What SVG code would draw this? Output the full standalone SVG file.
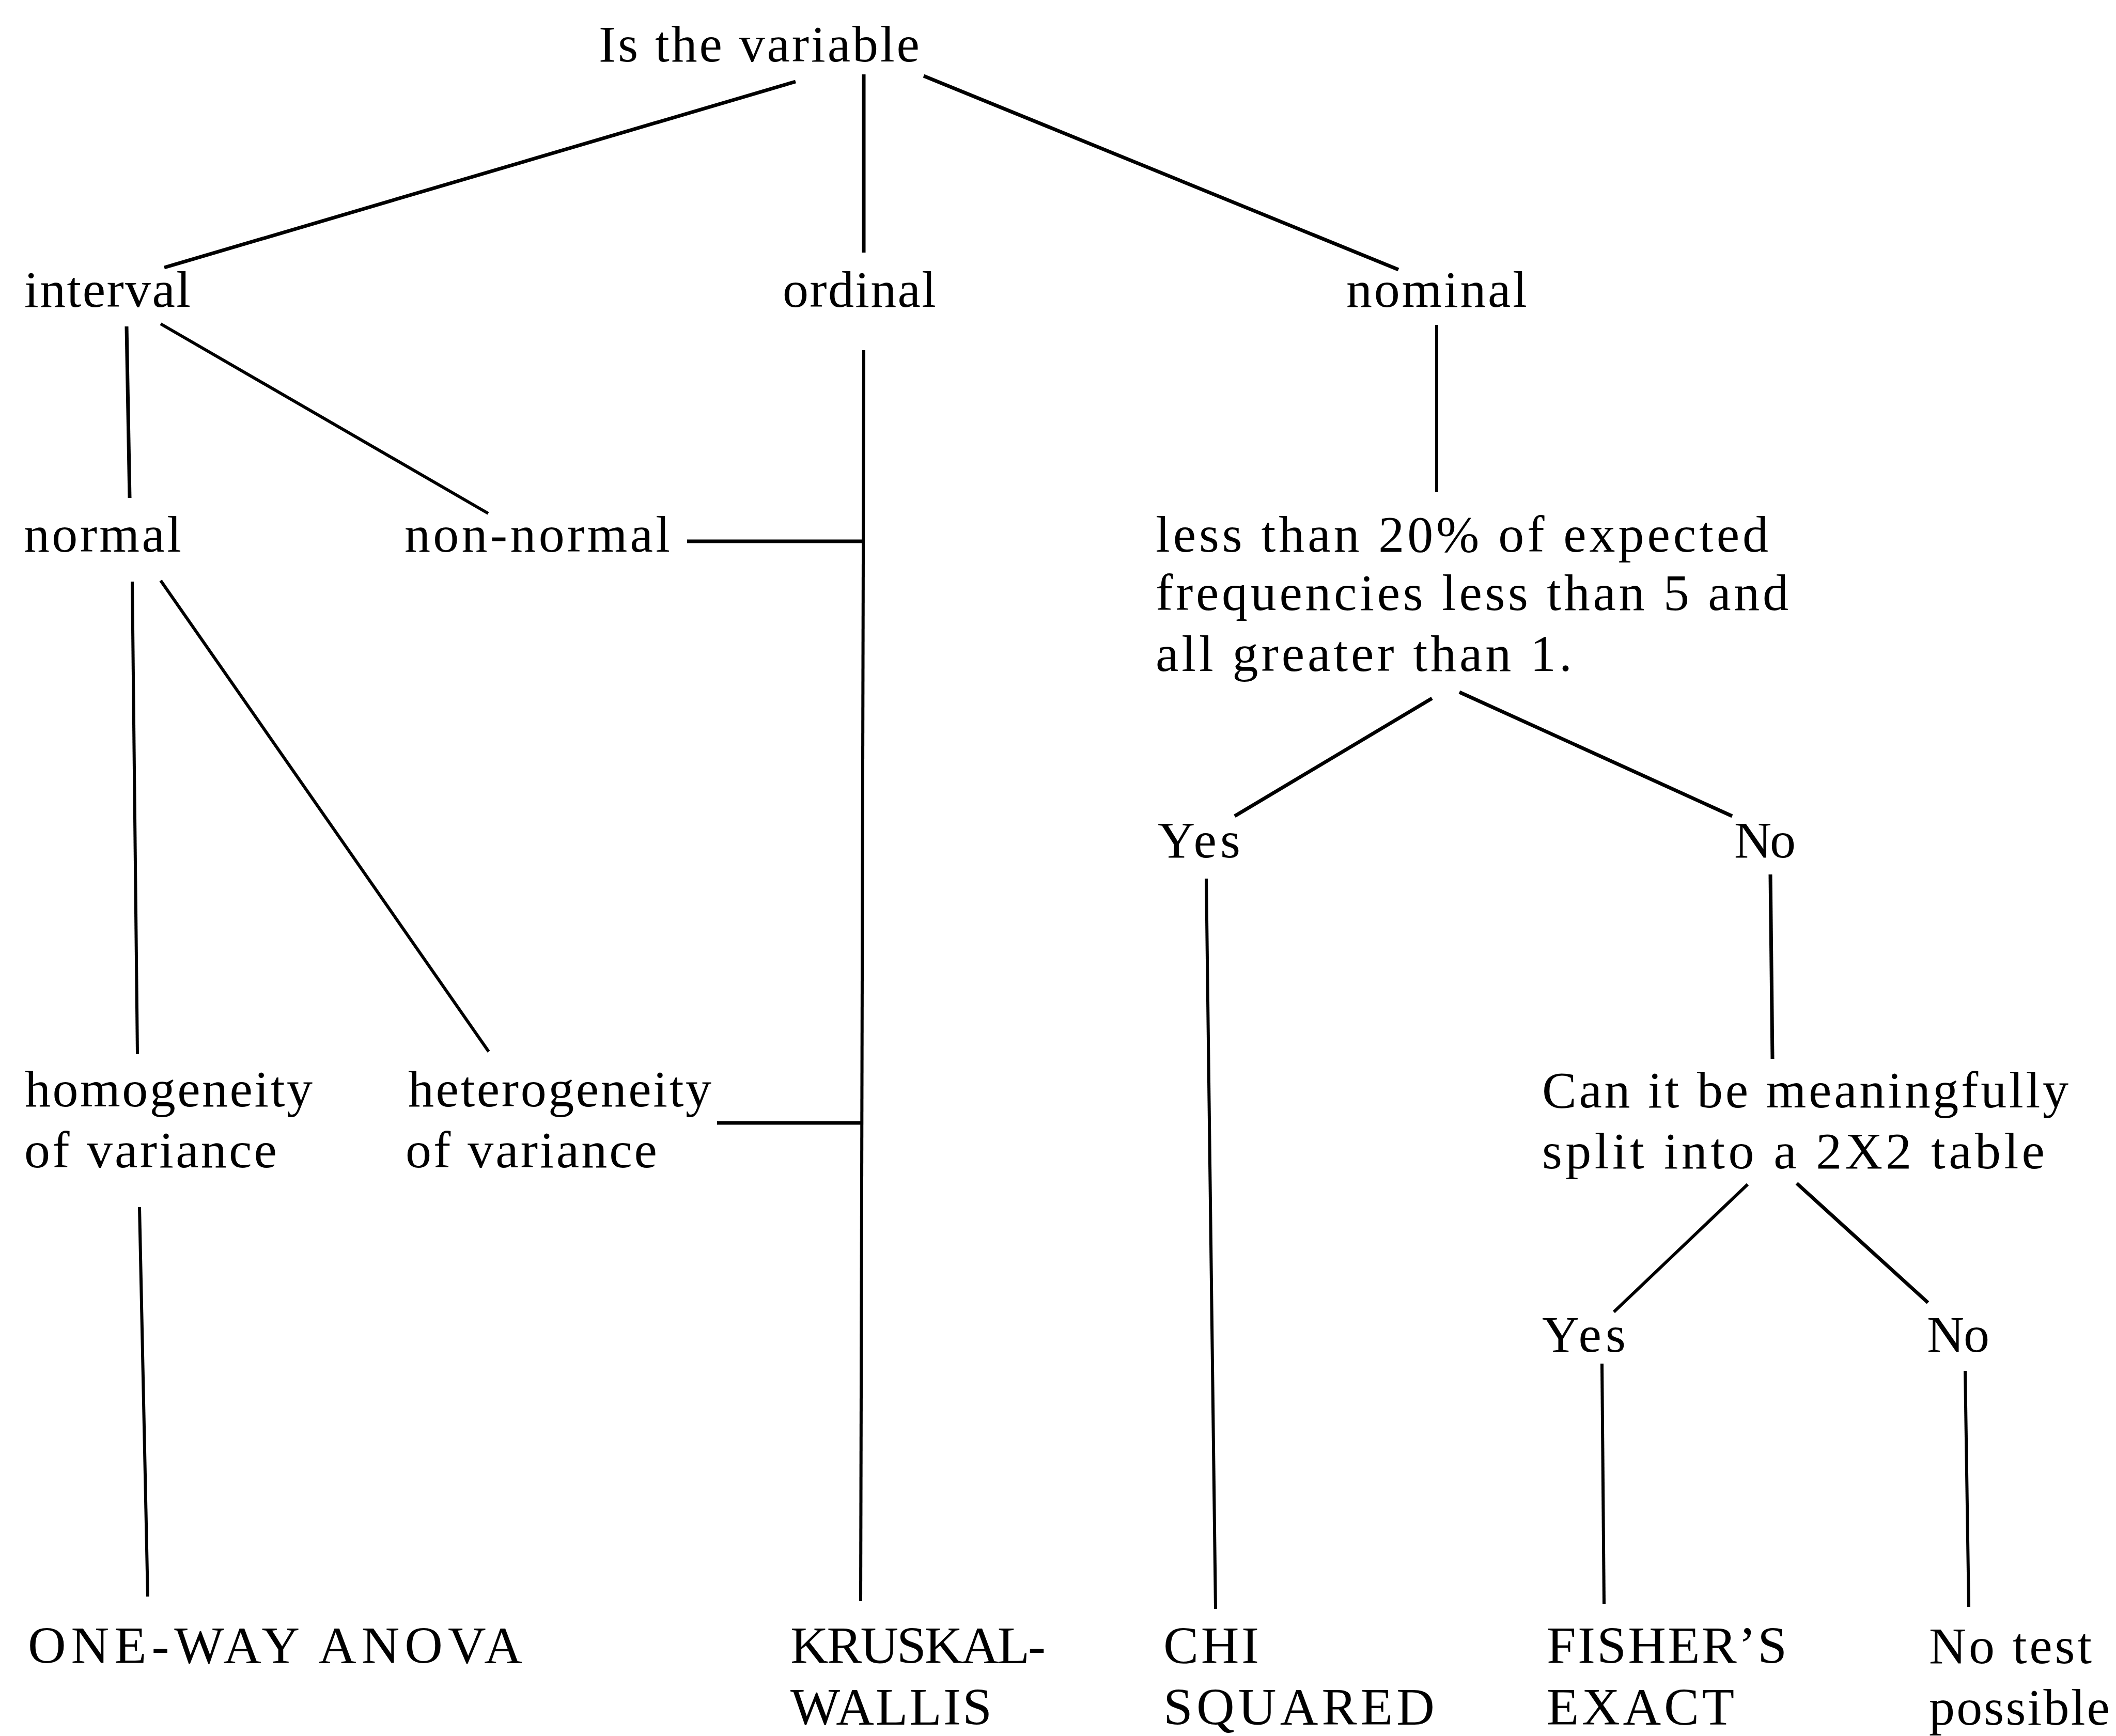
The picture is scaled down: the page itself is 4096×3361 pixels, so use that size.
<svg xmlns="http://www.w3.org/2000/svg" width="4096" height="3361" viewBox="0 0 4096 3361">
<style>
text{font-family:"Liberation Serif","Times New Roman",serif;font-size:100px;fill:#000}
.cap{font-size:102px}
.ln{stroke:#000;stroke-width:6;fill:none;stroke-linecap:butt}
.th{stroke-width:7}
</style>
<rect width="4096" height="3361" fill="#fff"/>
<g id="connectors">
<line class="ln th" x1="1540" y1="158" x2="318" y2="518"/>
<line class="ln th" x1="1672" y1="144" x2="1672" y2="489"/>
<line class="ln th" x1="1788" y1="147" x2="2707" y2="522"/>
<line class="ln th" x1="245" y1="632" x2="251" y2="964"/>
<line class="ln" x1="311" y1="627" x2="945" y2="994"/>
<line class="ln" x1="1672" y1="678" x2="1666" y2="3100"/>
<line class="ln" x1="2781" y1="629" x2="2781" y2="953"/>
<line class="ln th" x1="1330" y1="1048" x2="1670" y2="1048"/>
<line class="ln" x1="256" y1="1126" x2="266" y2="2041"/>
<line class="ln" x1="311" y1="1124" x2="946" y2="2036"/>
<line class="ln th" x1="1388" y1="2174" x2="1668" y2="2174"/>
<line class="ln" x1="270" y1="2337" x2="286" y2="3091"/>
<line class="ln th" x1="2772" y1="1352" x2="2390" y2="1580"/>
<line class="ln th" x1="2825" y1="1340" x2="3353" y2="1580"/>
<line class="ln" x1="2335" y1="1701" x2="2353" y2="3115"/>
<line class="ln th" x1="3427" y1="1693" x2="3431" y2="2050"/>
<line class="ln" x1="3383" y1="2293" x2="3124" y2="2540"/>
<line class="ln th" x1="3478" y1="2291" x2="3732" y2="2522"/>
<line class="ln" x1="3101" y1="2640" x2="3105" y2="3105"/>
<line class="ln" x1="3804" y1="2654" x2="3811" y2="3111"/>
</g>
<g id="n-root"><text x="1159" y="119" textLength="621" lengthAdjust="spacing">Is the variable</text></g>
<g id="n-interval"><text x="47" y="594" textLength="322" lengthAdjust="spacing">interval</text></g>
<g id="n-ordinal"><text x="1515" y="594" textLength="297" lengthAdjust="spacing">ordinal</text></g>
<g id="n-nominal"><text x="2606" y="594" textLength="350" lengthAdjust="spacing">nominal</text></g>
<g id="n-normal"><text x="46" y="1068" textLength="305" lengthAdjust="spacing">normal</text></g>
<g id="n-nonnormal"><text x="783" y="1068" textLength="514" lengthAdjust="spacing">non-normal</text></g>
<g id="n-freq">
<text x="2237" y="1068" textLength="1186" lengthAdjust="spacing">less than 20% of expected</text>
<text x="2237" y="1181" textLength="1225" lengthAdjust="spacing">frequencies less than 5 and</text>
<text x="2237" y="1299" textLength="806" lengthAdjust="spacing">all greater than 1.</text>
</g>
<g id="n-yes1"><text x="2241" y="1660" textLength="160" lengthAdjust="spacing">Yes</text></g>
<g id="n-no1"><text x="3357" y="1660" textLength="119" lengthAdjust="spacing">No</text></g>
<g id="n-homog">
<text x="48" y="2142" textLength="557" lengthAdjust="spacing">homogeneity</text>
<text x="47" y="2260" textLength="489" lengthAdjust="spacing">of variance</text>
</g>
<g id="n-heterog">
<text x="790" y="2142" textLength="587" lengthAdjust="spacing">heterogeneity</text>
<text x="785" y="2260" textLength="487" lengthAdjust="spacing">of variance</text>
</g>
<g id="n-split">
<text x="2985" y="2144" textLength="1019" lengthAdjust="spacing">Can it be meaningfully</text>
<text x="2985" y="2262" textLength="973" lengthAdjust="spacing">split into a 2X2 table</text>
</g>
<g id="n-yes2"><text x="2985" y="2617" textLength="162" lengthAdjust="spacing">Yes</text></g>
<g id="n-no2"><text x="3730" y="2617" textLength="121" lengthAdjust="spacing">No</text></g>
<g id="n-anova"><text class="cap" x="54" y="3220" textLength="957" lengthAdjust="spacing">ONE-WAY ANOVA</text></g>
<g id="n-kruskal">
<text class="cap" x="1530" y="3220" textLength="494" lengthAdjust="spacing">KRUSKAL-</text>
<text class="cap" x="1530" y="3339" textLength="390" lengthAdjust="spacing">WALLIS</text>
</g>
<g id="n-chi">
<text class="cap" x="2252" y="3220" textLength="185" lengthAdjust="spacing">CHI</text>
<text class="cap" x="2252" y="3339" textLength="525" lengthAdjust="spacing">SQUARED</text>
</g>
<g id="n-fisher">
<text class="cap" x="2994" y="3220" textLength="465" lengthAdjust="spacing">FISHER’S</text>
<text class="cap" x="2994" y="3339" textLength="363" lengthAdjust="spacing">EXACT</text>
</g>
<g id="n-notest">
<text x="3734" y="3220" textLength="315" lengthAdjust="spacing">No test</text>
<text x="3734" y="3339" textLength="350" lengthAdjust="spacing">possible</text>
</g>
</svg>
